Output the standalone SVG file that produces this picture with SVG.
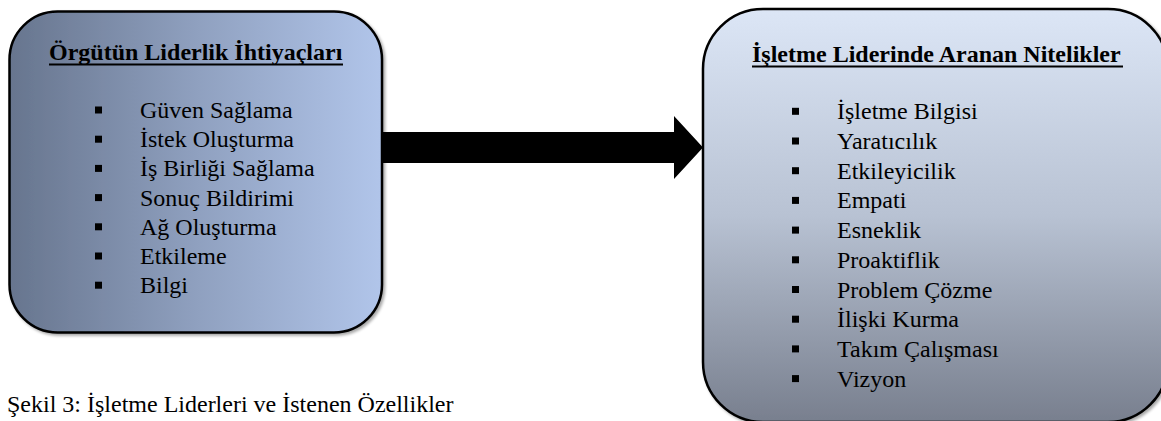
<svg xmlns="http://www.w3.org/2000/svg" width="1161" height="421" viewBox="0 0 1161 421">
  <defs>
    <linearGradient id="gradLeft" x1="0" y1="0" x2="1" y2="0">
      <stop offset="0" stop-color="#67758e"/>
      <stop offset="0.5" stop-color="#8fa0bf"/>
      <stop offset="1" stop-color="#b1c5ea"/>
    </linearGradient>
    <linearGradient id="gradRight" x1="0" y1="0" x2="0" y2="1">
      <stop offset="0" stop-color="#dce6f6"/>
      <stop offset="0.5" stop-color="#b8c2d3"/>
      <stop offset="1" stop-color="#787f8e"/>
    </linearGradient>
    <filter id="shadow" x="-5%" y="-5%" width="115%" height="115%">
      <feGaussianBlur in="SourceAlpha" stdDeviation="1.5"/>
      <feOffset dx="1.5" dy="1.5" result="b"/>
      <feComponentTransfer><feFuncA type="linear" slope="0.35"/></feComponentTransfer>
      <feMerge><feMergeNode/><feMergeNode in="SourceGraphic"/></feMerge>
    </filter>
  </defs>
  <style>
    .box { stroke: #000; stroke-width: 2.5; filter: url(#shadow); }
    .title { font-family: "Liberation Serif", "Times New Roman", serif; font-size: 24px; font-weight: bold; fill: #000; }
    .item { font-family: "Liberation Serif", "Times New Roman", serif; font-size: 24px; fill: #000; }
    .caption { font-family: "Liberation Serif", "Times New Roman", serif; font-size: 24px; fill: #000; }
    .bullet { fill: #000; }
    .rule { stroke: #000; stroke-width: 2.2; }
  </style>

  <rect width="1161" height="421" fill="#ffffff"/>

  <!-- connector: block arrow between the two boxes -->
  <g id="connectors">
    <polygon points="382,132 674,132 674,116 703,147.5 674,179 674,163 382,163" fill="#000"/>
  </g>

  <!-- left node: organisational leadership needs -->
  <g id="node-needs">
    <rect class="box" x="9.5" y="11.5" width="372.5" height="321" rx="48" ry="48" fill="url(#gradLeft)"/>
    <text class="title" x="49" y="60">Örgütün Liderlik İhtiyaçları</text>
    <line class="rule" x1="49" y1="64.5" x2="343" y2="64.5"/>
    <g class="bullet">
      <rect x="95" y="106.5" width="7" height="7"/>
      <rect x="95" y="135.7" width="7" height="7"/>
      <rect x="95" y="164.9" width="7" height="7"/>
      <rect x="95" y="194.1" width="7" height="7"/>
      <rect x="95" y="223.3" width="7" height="7"/>
      <rect x="95" y="252.5" width="7" height="7"/>
      <rect x="95" y="281.7" width="7" height="7"/>
    </g>
    <text class="item" x="140" y="118">Güven Sağlama</text>
    <text class="item" x="140" y="147.2">İstek Oluşturma</text>
    <text class="item" x="140" y="176.4">İş Birliği Sağlama</text>
    <text class="item" x="140" y="205.6">Sonuç Bildirimi</text>
    <text class="item" x="140" y="234.8">Ağ Oluşturma</text>
    <text class="item" x="140" y="264">Etkileme</text>
    <text class="item" x="140" y="293.2">Bilgi</text>
  </g>

  <!-- right node: qualities sought in a business leader -->
  <g id="node-qualities">
    <rect class="box" x="703" y="9" width="465" height="413" rx="60" ry="60" fill="url(#gradRight)"/>
    <text class="title" x="752" y="62">İşletme Liderinde Aranan Nitelikler</text>
    <line class="rule" x1="752" y1="66.5" x2="1123" y2="66.5"/>
    <g class="bullet">
      <rect x="792" y="107.8" width="7" height="7"/>
      <rect x="792" y="137.5" width="7" height="7"/>
      <rect x="792" y="167.2" width="7" height="7"/>
      <rect x="792" y="196.9" width="7" height="7"/>
      <rect x="792" y="226.6" width="7" height="7"/>
      <rect x="792" y="256.3" width="7" height="7"/>
      <rect x="792" y="286" width="7" height="7"/>
      <rect x="792" y="315.7" width="7" height="7"/>
      <rect x="792" y="345.4" width="7" height="7"/>
      <rect x="792" y="375.1" width="7" height="7"/>
    </g>
    <text class="item" x="837" y="119.3">İşletme Bilgisi</text>
    <text class="item" x="837" y="149">Yaratıcılık</text>
    <text class="item" x="837" y="178.7">Etkileyicilik</text>
    <text class="item" x="837" y="208.4">Empati</text>
    <text class="item" x="837" y="238.1">Esneklik</text>
    <text class="item" x="837" y="267.8">Proaktiflik</text>
    <text class="item" x="837" y="297.5">Problem Çözme</text>
    <text class="item" x="837" y="327.2">İlişki Kurma</text>
    <text class="item" x="837" y="356.9">Takım Çalışması</text>
    <text class="item" x="837" y="386.6">Vizyon</text>
  </g>

  <text class="caption" x="7" y="412">Şekil 3: İşletme Liderleri ve İstenen Özellikler</text>
</svg>
